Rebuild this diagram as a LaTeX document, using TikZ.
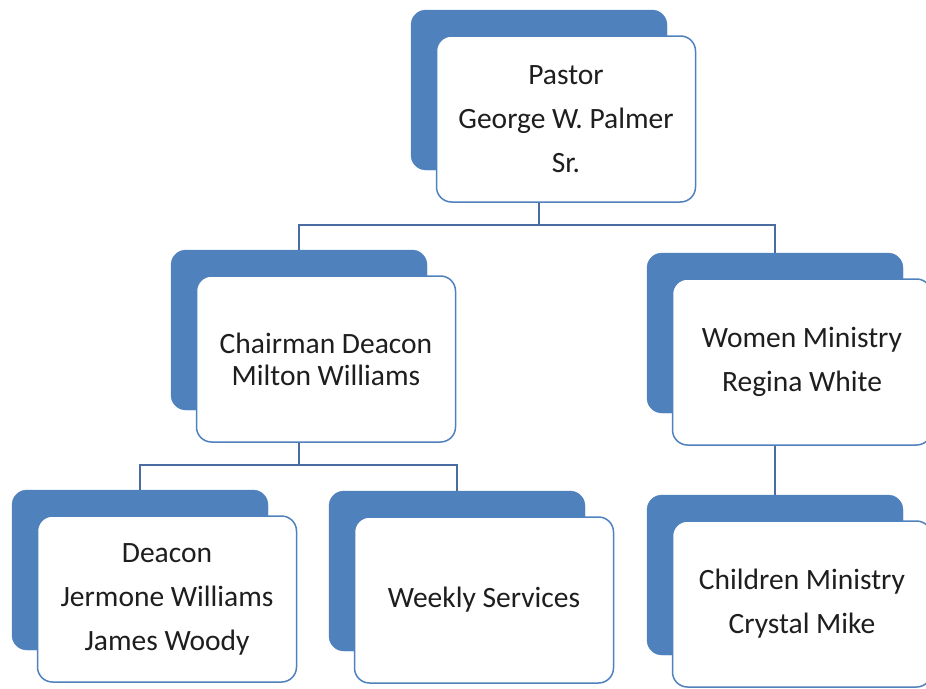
\documentclass[tikz,border=0pt]{standalone}
\usepackage{fontspec}
\setmainfont{Carlito}
\usepackage{tikz}
\usetikzlibrary{arrows.meta}
\usetikzlibrary{positioning}
\definecolor{boxblue}{RGB}{79,129,189}
\definecolor{lineblue}{RGB}{74,108,160}
\definecolor{textgray}{RGB}{30,30,30}
\tikzset{
    backbox/.style={rectangle,rounded corners=15pt,fill=boxblue,draw=boxblue,minimum width=256pt,minimum height=160pt,inner sep=0pt},
    frontbox/.style={rectangle,rounded corners=15pt,fill=white,draw=boxblue,line width=1.5pt,minimum width=259pt,minimum height=166pt,text=textgray,align=center,font=\fontsize{29.5}{44}\selectfont},
    conn/.style={draw=lineblue,line width=2pt}
}
\begin{document}
\begin{tikzpicture}[x=1pt,y=-1pt,node distance=29pt and 27pt,on grid]
    \useasboundingbox (0,0) rectangle (926,688);
    % shadows
    \node[backbox] (s11) at (539,90) {};
    \node[backbox] (s21) at (299,330) {};
    \node[backbox] (s22) at (775,333) {};
    \node[backbox] (s31) at (140,570) {};
    \node[backbox] (s32) at (457,571) {};
    \node[backbox] (s33) at (775,575) {};
    % boxes
    \node[frontbox] (11) [below right =of s11] {Pastor\\George W. Palmer\\Sr.};
    \node[frontbox, font=\fontsize{29.5}{32}\selectfont] (21) [below right =of s21] {Chairman Deacon\\Milton Williams};
    \node[frontbox] (22) [below right =of s22] {Women Ministry\\Regina White};
    \node[frontbox] (31) [below right =of s31] {Deacon\\Jermone Williams\\James Woody};
    \node[frontbox] (32) [below right =of s32] {Weekly Services};
    \node[frontbox] (33) [below right =of s33] {Children Ministry\\Crystal Mike};
    \coordinate (b1) at (539,225);
    \coordinate (b2) at (299,465);
    \path[conn] (s11 |- 11.south) -- (b1)
          (s21.north) |- (b1) -| (s22.north)
          (s21 |- 21.south) -- (b2)
          (s31.north) |- (b2) -| (s32.north)
          (s22 |- 22.south) -- (s33.north);
  \end{tikzpicture}
\end{document}
